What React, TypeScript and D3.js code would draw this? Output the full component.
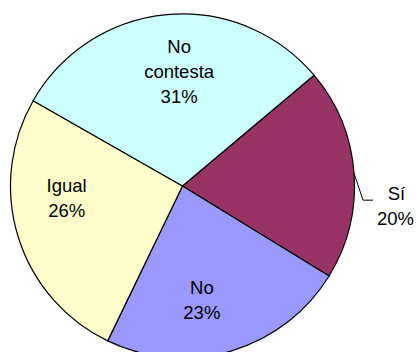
import React from "react";
import * as d3 from "d3";

const categories = ["Sí", "No", "Igual", "No contesta"];
const values = [19.9, 23.4, 26.1, 30.6];
const labelLines = [["Sí"], ["No"], ["Igual"], ["No", "contesta"]];

const colors = ["#993366", "#9999FF", "#FFFFCC", "#CCFFFF"];
// label nudges relative to centroid (style only)
const nudges: [number, number][] = [[0, 0], [-13, 3], [-6, -22], [7, 0]];

const W = 416;
const H = 352;
const cx = 182.5;
const cy = 186;
const R = 172;
const FS = 18.5;
const LH = 25;

export default function App() {
  const total = d3.sum(values);
  const start = (49.9 * Math.PI) / 180;
  const pie = d3
    .pie<number>()
    .sort(null)
    .value((d) => d)
    .startAngle(start)
    .endAngle(start + 2 * Math.PI);
  const arcs = pie(values);
  const arcGen = d3.arc<d3.PieArcDatum<number>>().innerRadius(0).outerRadius(R);
  const labelArc = d3.arc<d3.PieArcDatum<number>>().innerRadius(115).outerRadius(115);
  const fmt = d3.format(".0%");

  return (
    <svg
      width={W}
      height={H}
      style={{ position: "absolute", left: 0, top: 0, background: "#fff" }}
      fontFamily="'Liberation Sans', Arial, sans-serif"
    >
      <g transform={`translate(${cx},${cy})`}>
        {arcs.map((a, i) => (
          <path key={i} d={arcGen(a) || ""} fill={colors[i]} stroke="#000" strokeWidth={1.2} strokeLinejoin="round" />
        ))}
        {arcs.map((a, i) => {
          const lines = [...labelLines[i], fmt(a.data / total)];
          if (i === 0) {
            // outside label with leader line
            const mid = (a.startAngle + a.endAngle) / 2;
            const ex = R * Math.sin(mid);
            const ey = -R * Math.cos(mid);
            const kx = ex + 9;
            const ky = ey + 27;
            const hx = kx + 10;
            const tx = 213;
            const ty = 20;
            return (
              <g key={i}>
                <polyline points={`${ex},${ey} ${kx},${ky} ${hx},${ky}`} fill="none" stroke="#000" strokeWidth={1} />
                <text textAnchor="middle" fontSize={FS} fill="#000">
                  {lines.map((l, j) => (
                    <tspan key={j} x={tx + (j === 0 ? 1 : 0)} y={ty - ((lines.length - 1) * LH) / 2 + j * LH + FS * 0.36}>
                      {l}
                    </tspan>
                  ))}
                </text>
              </g>
            );
          }
          const [lx, ly] = labelArc.centroid(a);
          const x = lx + nudges[i][0];
          const y = ly + nudges[i][1];
          return (
            <text key={i} textAnchor="middle" fontSize={FS} fill="#000">
              {lines.map((l, j) => (
                <tspan key={j} x={x} y={y - ((lines.length - 1) * LH) / 2 + j * LH + FS * 0.36}>
                  {l}
                </tspan>
              ))}
            </text>
          );
        })}
      </g>
    </svg>
  );
}
